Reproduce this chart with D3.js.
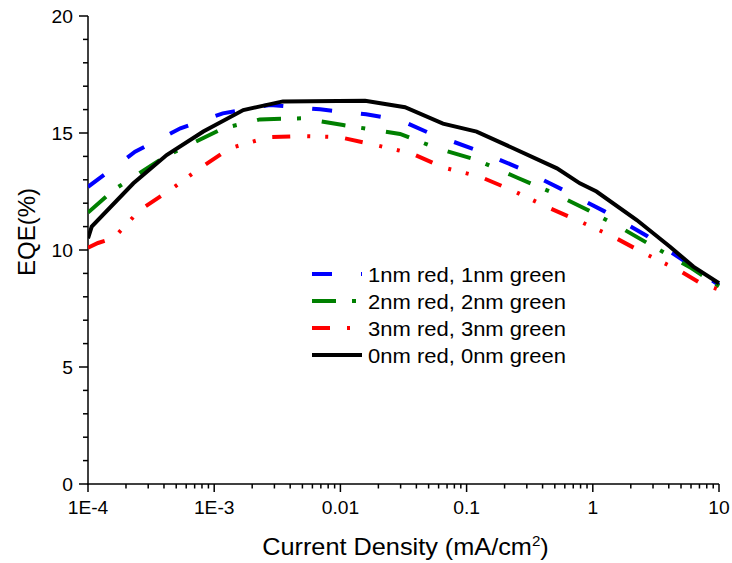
<!DOCTYPE html>
<html>
<head>
<meta charset="utf-8">
<script src="https://cdn.jsdelivr.net/npm/d3@7"></script>
<style>
  body { margin: 0; background: #fff; }
  svg text { font-family: "Liberation Sans", Arial, sans-serif; fill: #000; }
</style>
</head>
<body>
<div id="canvas"></div>
<script>
// DATA ========================================================================

var SERIES_NAMES = ["1nm red, 1nm green", "2nm red, 2nm green", "3nm red, 3nm green", "0nm red, 0nm green"]

var X_TICKS = [1e-4, 1e-3, 0.01, 0.1, 1, 10]
var X_TICK_LABELS = ["1E-4", "1E-3", "0.01", "0.1", "1", "10"]
var Y_TICKS = [0, 5, 10, 15, 20]

var J_1NM = [1e-4, 2.36e-4, 5.4e-4, 1.17e-3, 2.76e-3, 6.9e-3, 0.016, 0.0297, 0.051, 0.12, 0.265, 0.57, 1.25, 2.69, 5.4, 10]
var EQE_1NM = [12.7, 14.2, 15.2, 15.84, 16.2, 16.01, 15.8, 15.55, 14.99, 14.27, 13.49, 12.59, 11.64, 10.6, 9.5, 8.5]

var J_2NM = [1e-4, 1.59e-4, 4.07e-4, 1.18e-3, 2.3e-3, 4.9e-3, 0.0105, 0.0297, 0.058, 0.12, 0.25, 0.457, 0.92, 1.8, 3.2, 6.08, 10]
var EQE_2NM = [11.6, 12.56, 13.99, 15.2, 15.58, 15.63, 15.34, 14.96, 14.35, 13.85, 13.1, 12.5, 11.7, 10.85, 10.07, 9.22, 8.45]

var J_3NM = [1e-4, 1.2e-4, 1.59e-4, 2.58e-4, 4.46e-4, 7.7e-4, 1.33e-3, 2.68e-3, 4.9e-3, 9.9e-3, 0.0188, 0.0367, 0.065, 0.128, 0.228, 0.43, 0.77, 1.45, 2.51, 4.75, 7.06, 10]
var EQE_3NM = [10.1, 10.3, 10.5, 11.71, 12.56, 13.49, 14.35, 14.82, 14.87, 14.82, 14.49, 14.13, 13.53, 13.13, 12.56, 11.85, 11.25, 10.57, 9.88, 9.15, 8.6, 8.3]

var J_0NM = [1e-4, 1.07e-4, 2.29e-4, 4.2e-4, 8.2e-4, 1.7e-3, 3.5e-3, 0.0157, 0.0325, 0.065, 0.12, 0.234, 0.52, 0.79, 1.07, 2.23, 4.09, 6.26, 10]
var EQE_0NM = [10.5, 11.0, 12.85, 14.06, 15.06, 15.98, 16.35, 16.38, 16.1, 15.4, 15.06, 14.35, 13.49, 12.85, 12.5, 11.28, 10.14, 9.29, 8.58]

// STYLE =======================================================================

var WIDTH = 732
var HEIGHT = 563
var MARGIN = { "left": 88, "right": 13, "top": 16, "bottom": 79 }
var STRETCH = 1.1   // glyphs in the reference are a bit wider than tall

var COLORS = ["#0000ff", "#008000", "#ff0000", "#000000"]
var DASHES = ["20,29", "24,16,4,21", "18,17,3,15,3,17", null]

// SVG GENERATOR ===============================================================

function translate(x, y) {
    return "translate(" + x + "," + y + ")"
}

function label(g, text, x, y, size, anchor) {
    return g.append("text")
        .attr("transform", translate(x, y) + " scale(" + STRETCH + ",1)")
        .attr("font-size", size)
        .attr("text-anchor", anchor)
        .text(text)
}

function generate() {
    let svg = d3.select("#canvas").append("svg")
        .attr("width", WIDTH)
        .attr("height", HEIGHT)

    let W = WIDTH - MARGIN.left - MARGIN.right
    let H = HEIGHT - MARGIN.top - MARGIN.bottom
    let G = svg.append("g").attr("transform", translate(MARGIN.left, MARGIN.top))

    let x = d3.scaleLog().domain([1e-4, 10]).range([0, W])
    let y = d3.scaleLinear().domain([0, 20]).range([H, 0])

    // Minor ticks.
    let xMinor = []
    for (let d = -4; d < 1; d++) {
        for (let k = 2; k <= 9; k++) { xMinor.push(k*Math.pow(10, d)) }
    }
    let yMinor = d3.range(0, 21, 1).filter(v => v % 5 != 0)

    let axes = G.append("g")
        .attr("stroke", "#000")
        .attr("stroke-width", 1.5)
        .attr("fill", "none")

    axes.append("line").attr("x1", 0).attr("x2", 0).attr("y1", 0).attr("y2", H + 0.75)
    axes.append("line").attr("x1", -0.75).attr("x2", W).attr("y1", H).attr("y2", H)

    axes.selectAll(".ymaj").data(Y_TICKS).enter().append("line")
        .attr("x1", -9).attr("x2", 0)
        .attr("y1", d => y(d)).attr("y2", d => y(d))
    axes.selectAll(".ymin").data(yMinor).enter().append("line")
        .attr("x1", -5).attr("x2", 0)
        .attr("y1", d => y(d)).attr("y2", d => y(d))
    axes.selectAll(".xmaj").data(X_TICKS).enter().append("line")
        .attr("x1", d => x(d)).attr("x2", d => x(d))
        .attr("y1", H).attr("y2", H + 8)
    axes.selectAll(".xmin").data(xMinor).enter().append("line")
        .attr("x1", d => x(d)).attr("x2", d => x(d))
        .attr("y1", H).attr("y2", H + 4.5)

    // Tick labels.
    Y_TICKS.forEach(function(v) {
        label(G, String(v), -15, y(v) + 6.5, 17.5, "end")
    })
    X_TICKS.forEach(function(v, i) {
        label(G, X_TICK_LABELS[i], x(v), H + 30, 17.5, "middle")
    })

    // Axis titles.
    let title = label(G, "Current Density (mA/cm", W/2 + 2, H + 71, 23, "middle")
    title.append("tspan").attr("dy", -9).attr("font-size", "60%").text("2")
    title.append("tspan").attr("dy", 9).text(")")

    G.append("text")
        .attr("transform", translate(-53, H/2 - 18) + " rotate(-90)")
        .attr("font-size", 24)
        .attr("text-anchor", "middle")
        .text("EQE(%)")

    // Curves.
    let xs = [J_1NM, J_2NM, J_3NM, J_0NM]
    let ys = [EQE_1NM, EQE_2NM, EQE_3NM, EQE_0NM]
    let data = xs.map((js, i) => js.map((j, k) => [j, ys[i][k]]))

    let line = d3.line().x(d => x(d[0])).y(d => y(d[1]))

    let clipId = "plot-clip"
    G.append("clipPath").attr("id", clipId)
        .append("rect").attr("x", 0).attr("y", -5).attr("width", W + 2).attr("height", H + 5)

    G.append("g").attr("clip-path", "url(#" + clipId + ")")
        .selectAll("path").data(data).enter().append("path")
            .attr("d", line)
            .attr("fill", "none")
            .attr("stroke", (d, i) => COLORS[i])
            .attr("stroke-width", 4)
            .attr("stroke-dasharray", (d, i) => DASHES[i])

    // Legend.
    let legend = G.append("g").attr("transform", translate(312 - MARGIN.left, 274 - MARGIN.top))
    SERIES_NAMES.forEach(function(name, i) {
        let row = legend.append("g").attr("transform", translate(0, 27*i))
        row.append("line")
            .attr("x1", 0).attr("x2", 50).attr("y1", 0).attr("y2", 0)
            .attr("stroke", COLORS[i])
            .attr("stroke-width", 4)
            .attr("stroke-dasharray", DASHES[i])
        label(row, name, 56, 7.5, 20, "start")
    })
}

generate()
</script>
</body>
</html>
